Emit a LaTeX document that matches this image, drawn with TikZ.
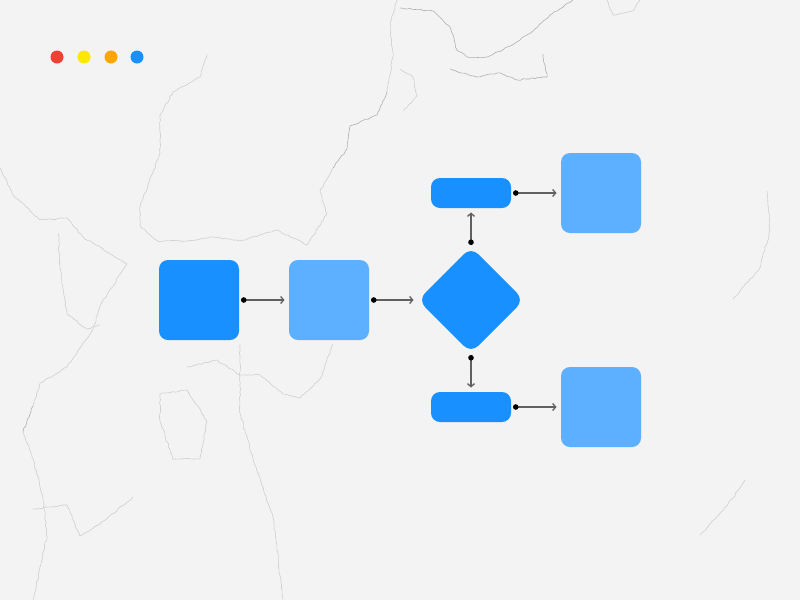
\documentclass[tikz,border=0pt]{standalone}
\usetikzlibrary{arrows.meta,shapes.geometric,decorations.pathmorphing}
\definecolor{deepblue}{HTML}{1890FF}
\definecolor{paleblue}{HTML}{5CB0FF}
\definecolor{marble}{HTML}{F3F3F3}
\definecolor{vein}{HTML}{CFCFCF}
\definecolor{darkvein}{HTML}{B0B0B0}
\definecolor{linkgray}{HTML}{606060}
\definecolor{dotred}{HTML}{F04134}
\definecolor{dotyellow}{HTML}{FFE800}
\definecolor{dotorange}{HTML}{FFA500}
\tikzset{
	box/.style={rectangle,rounded corners=9pt,minimum size=80pt,inner sep=0pt,outer sep=0pt,fill=#1},
	bar/.style={rectangle,rounded corners=9pt,minimum width=80pt,minimum height=30pt,inner sep=0pt,outer sep=0pt,fill=deepblue},
	link/.style={linkgray,line width=1.3pt,{Circle[length=5.5pt,width=5.5pt,black]}-{Straight Barb[length=3pt,width=7pt]},shorten <=2pt,shorten >=4.5pt},
	veinline/.style={vein,line width=0.6pt,line join=round,decorate,decoration={random steps,segment length=3pt,amplitude=0.7pt}}
}
\begin{document}
\begin{tikzpicture}[x=1pt,y=-1pt]
	\fill[marble] (0,0) rectangle (800,600);
	\useasboundingbox (0,0) rectangle (800,600);
	\pgfmathsetseed{7}

	% marble veins
	\draw[veinline] (0,168) -- (13,195) -- (40,220) -- (67,218) -- (83,237) -- (127,264) -- (100,306) -- (93,329) -- (67,367) -- (40,383) -- (33,406);
	\draw[veinline,darkvein] (33,406) -- (23,432);
	\draw[veinline] (23,432) -- (33,459) -- (43,498) -- (47,536) -- (33,600);
	\draw[veinline] (140,226) -- (157,241) -- (187,241) -- (213,237) -- (240,241) -- (277,230) -- (307,245) -- (327,214) -- (320,191) -- (333,168);
	\draw[veinline,darkvein] (333,168) -- (347,149) -- (350,126) -- (360,122) -- (377,115) -- (387,92);
	\draw[veinline] (387,92) -- (393,57) -- (390,23) -- (397,0);
	\draw[veinline] (140,226) -- (140,207) -- (160,153) -- (160,115) -- (173,92) -- (200,77) -- (207,54);
	\draw[veinline] (58,233) -- (60,268) -- (67,314) -- (87,329) -- (100,325);
	\draw[veinline] (187,367) -- (217,360) -- (240,375) -- (260,375) -- (283,394) -- (300,398) -- (320,379) -- (333,344);
	\draw[veinline] (187,390) -- (160,394) -- (160,421) -- (173,459) -- (200,459) -- (207,421) -- cycle;
	\draw[veinline] (240,344) -- (240,413) -- (253,459) -- (273,517) -- (283,600);
	\draw[veinline] (33,509) -- (67,505) -- (80,536) -- (100,524) -- (133,497);
	\draw[veinline,darkvein] (400,8) -- (433,11) -- (450,27) -- (457,50) -- (467,57) -- (487,57) -- (510,46) -- (533,31) -- (550,15) -- (573,0);
	\draw[veinline,darkvein] (450,69) -- (477,77) -- (500,73) -- (517,80) -- (547,77) -- (543,54);
	\draw[veinline] (607,0) -- (613,15) -- (633,11) -- (640,0);
	\draw[veinline] (400,69) -- (413,77) -- (417,96) -- (403,111);
	\draw[veinline] (767,191) -- (770,230) -- (760,268) -- (733,299);
	\draw[veinline] (700,535) -- (707,528) -- (733,498) -- (745,480);

	% window dots
	\fill[dotred] (57,57) circle (6.5);
	\fill[dotyellow] (84,57) circle (6.5);
	\fill[dotorange] (111,57) circle (6.5);
	\fill[deepblue] (137,57) circle (6.5);

	\node[box=deepblue] (start) at (199,300) {};
	\node[box=paleblue] (step) at (329,300) {};
	\node[diamond,aspect=1,minimum size=106pt,inner sep=0pt,outer sep=0pt,rounded corners=10pt,fill=deepblue] (choice) at (471,300) {};
	\node[bar] (upper) at (471,193) {};
	\node[bar] (lower) at (471,407) {};
	\node[box=paleblue] (endup) at (601,193) {};
	\node[box=paleblue] (enddown) at (601,407) {};

	\draw[link] (start.east) -- (step.west);
	\draw[link] (step.east) -- (choice.west);
	\draw[link] (choice.north) -- (upper.south);
	\draw[link] (choice.south) -- (lower.north);
	\draw[link] (upper.east) -- (endup.west);
	\draw[link] (lower.east) -- (enddown.west);
\end{tikzpicture}
\end{document}
